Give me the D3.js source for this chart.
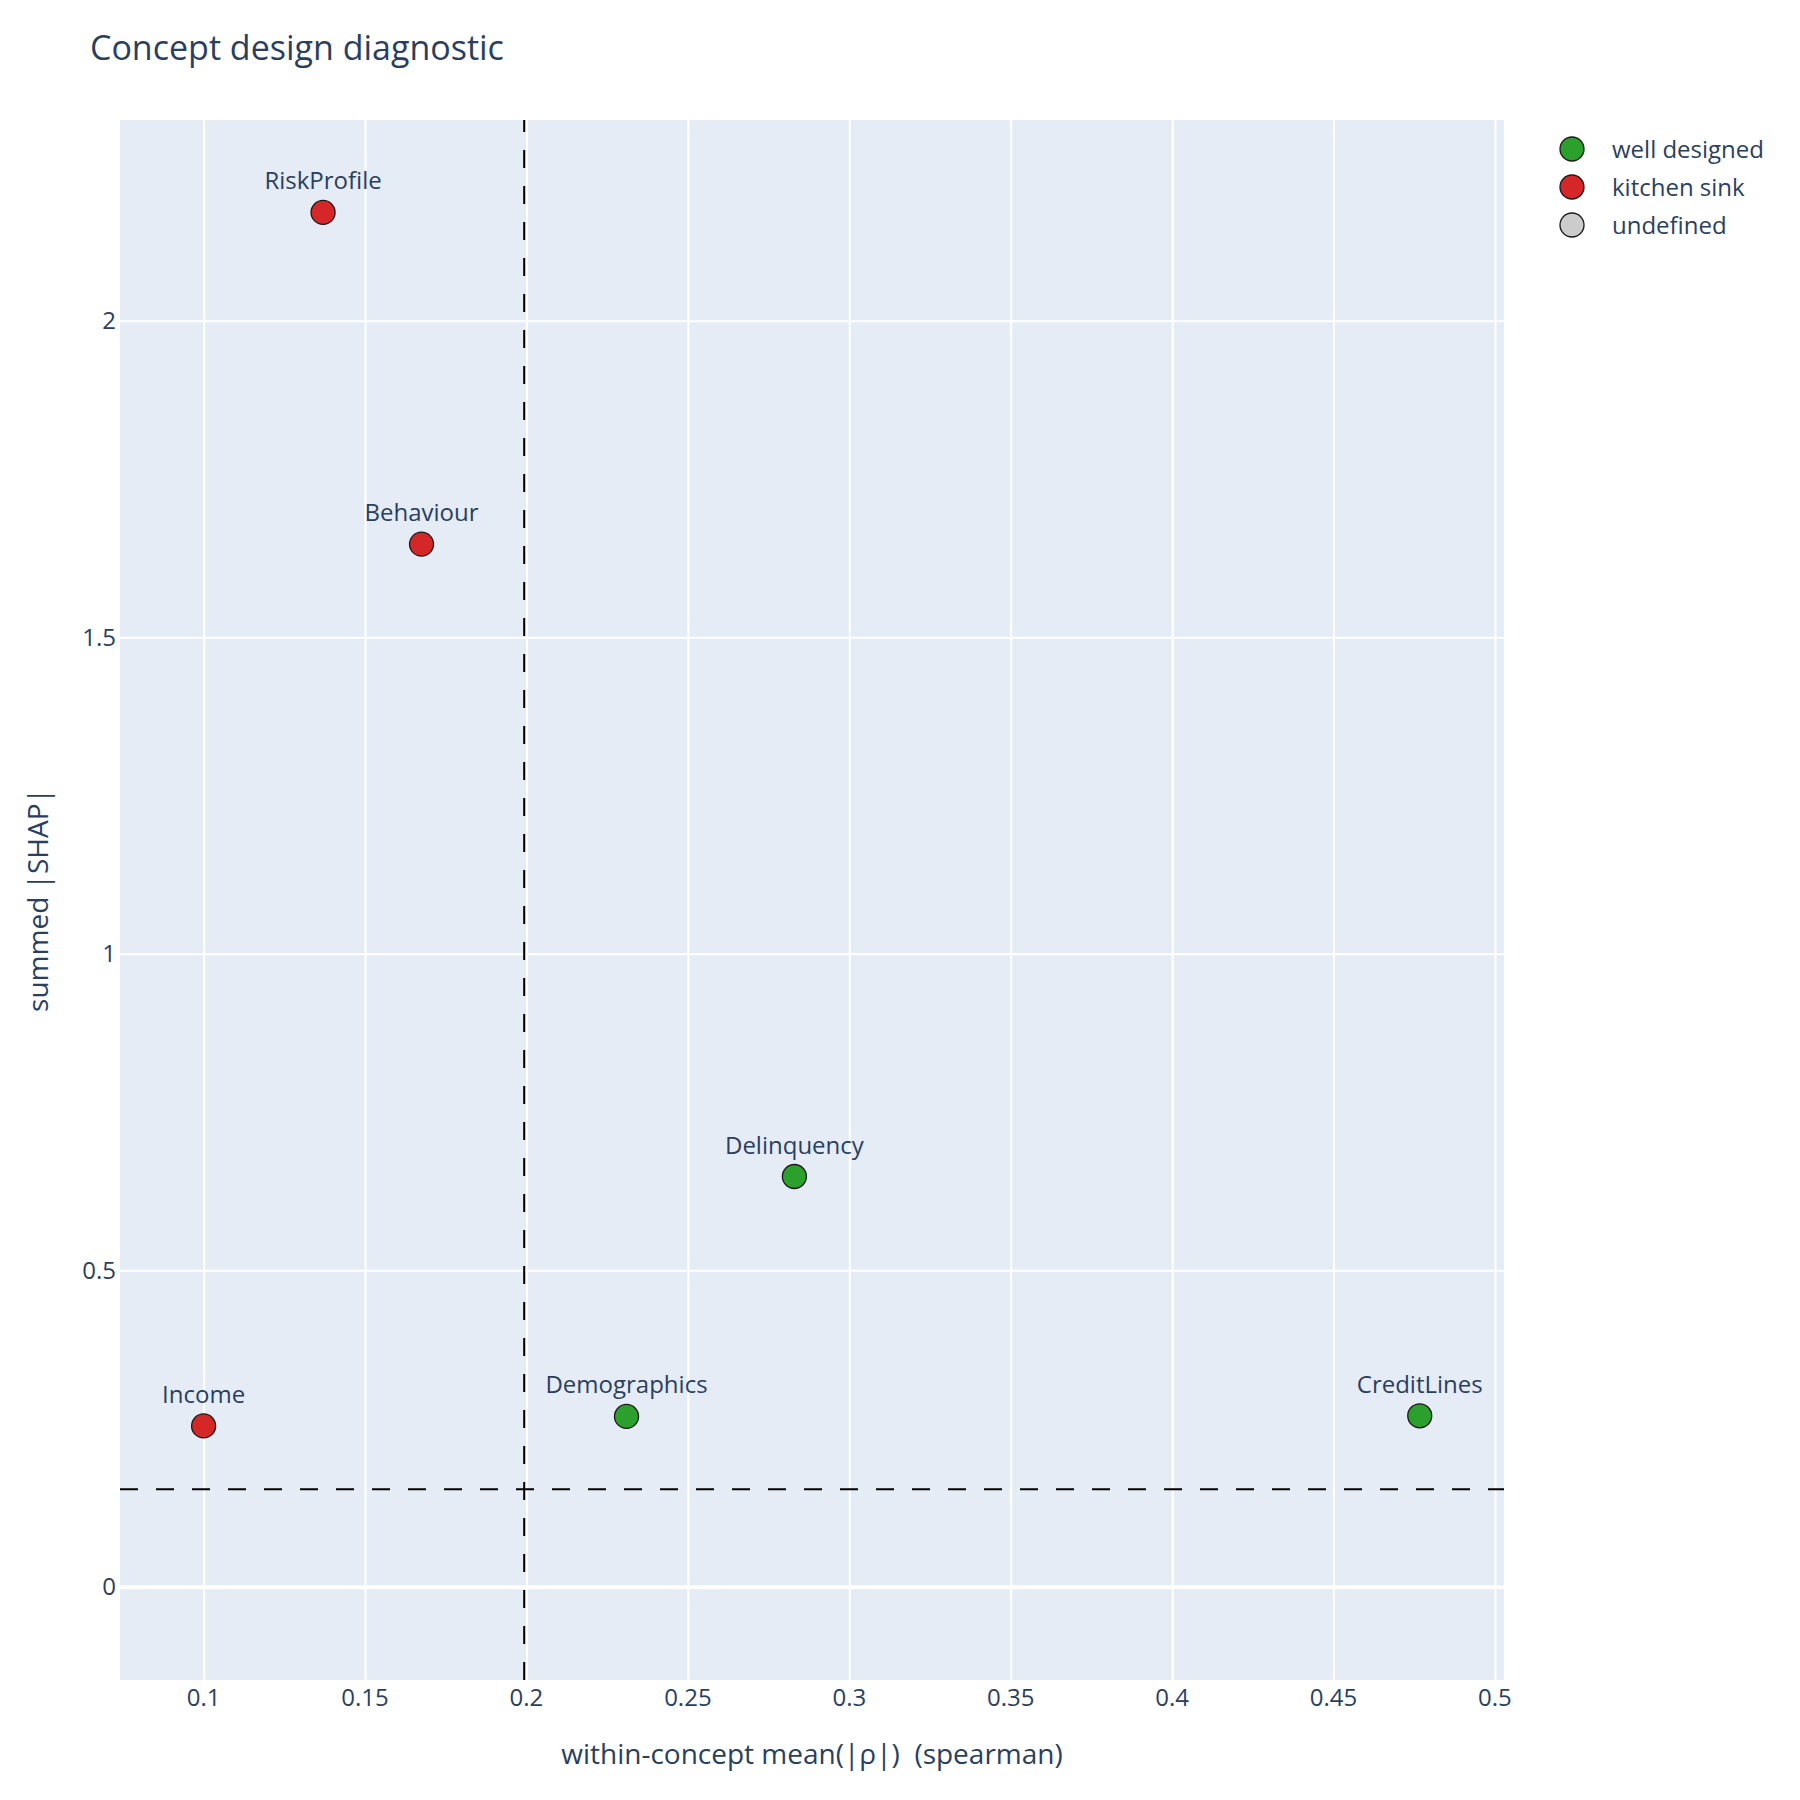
<!DOCTYPE html>
<html>
<head>
<meta charset="utf-8">
<script src="https://cdn.jsdelivr.net/npm/d3@7"></script>
<style>
body{margin:0;background:#fff;}
svg text{font-family:"Open Sans",verdana,arial,sans-serif;fill:#2a3f5f;white-space:pre;}
</style>
</head>
<body>
<div id="chart"></div>
<script>
// values
const concepts = ["RiskProfile", "Behaviour", "Delinquency", "Income", "Demographics", "CreditLines"];
const meanRho = [0.137, 0.1675, 0.283, 0.100, 0.231, 0.4767];
const shapSum = [2.171, 1.647, 0.648, 0.254, 0.269, 0.270];
const design = ["kitchen sink", "kitchen sink", "well designed", "kitchen sink", "well designed", "well designed"];
const legendLabels = ["well designed", "kitchen sink", "undefined"];
const xTicks = [0.1, 0.15, 0.2, 0.25, 0.3, 0.35, 0.4, 0.45, 0.5];
const yTicks = [0, 0.5, 1, 1.5, 2];
const rhoCut = 0.1993;
const shapCut = 0.154;

const colours = {"well designed": "#2ca02c", "kitchen sink": "#d62728", "undefined": "#cccccc"};

const W = 1800, H = 1800;
const m = {l: 120, t: 120, r: 296, b: 120};
const pw = W - m.l - m.r, ph = H - m.t - m.b;

const svg = d3.select("#chart").append("svg")
    .attr("width", W)
    .attr("height", H);

const x = d3.scaleLinear().domain([0.0741, 0.5028]).range([0, pw]);
const y = d3.scaleLinear().domain([-0.1474, 2.317]).range([ph, 0]);

const g = svg.append("g").attr("transform", `translate(${m.l},${m.t})`);

g.append("rect")
    .attr("width", pw)
    .attr("height", ph)
    .attr("fill", "#e5ecf6");

// grid via axes
const xg = g.append("g")
    .call(d3.axisBottom(x).tickValues(xTicks).tickSize(ph).tickFormat(""));
xg.select(".domain").remove();
xg.selectAll("line").attr("stroke", "#fff").attr("stroke-width", 2);

const yg = g.append("g")
    .call(d3.axisLeft(y).tickValues(yTicks).tickSize(-pw).tickFormat(""));
yg.select(".domain").remove();
yg.selectAll("line")
    .attr("stroke", "#fff")
    .attr("stroke-width", d => d === 0 ? 4 : 2);

// tick labels
g.append("g").selectAll("text").data(xTicks).join("text")
    .attr("x", d => x(d))
    .attr("y", ph + 26)
    .attr("text-anchor", "middle")
    .attr("font-size", 24)
    .text(d => d3.format("~g")(d));

g.append("g").selectAll("text").data(yTicks).join("text")
    .attr("x", -4)
    .attr("y", d => y(d) + 8.5)
    .attr("text-anchor", "end")
    .attr("font-size", 24)
    .text(d => d3.format("~g")(d));

// threshold lines (vertical one drawn bottom-up, like the reference)
g.append("line")
    .attr("x1", x(rhoCut)).attr("x2", x(rhoCut))
    .attr("y1", ph).attr("y2", 0)
    .attr("stroke", "#000").attr("stroke-width", 2)
    .attr("stroke-dasharray", "18,18");
g.append("line")
    .attr("x1", 0).attr("x2", pw)
    .attr("y1", y(shapCut)).attr("y2", y(shapCut))
    .attr("stroke", "#000").attr("stroke-width", 2)
    .attr("stroke-dasharray", "18,18");

// points
const pts = concepts.map((c, i) => ({name: c, rx: meanRho[i], sy: shapSum[i], kind: design[i]}));

g.append("g").selectAll("circle").data(pts).join("circle")
    .attr("cx", d => x(d.rx))
    .attr("cy", d => y(d.sy))
    .attr("r", 12)
    .attr("fill", d => colours[d.kind])
    .attr("stroke", "#1a1a1a")
    .attr("stroke-width", 1.3);

g.append("g").selectAll("text").data(pts).join("text")
    .attr("x", d => x(d.rx))
    .attr("y", d => y(d.sy) - 23)
    .attr("text-anchor", "middle")
    .attr("font-size", 24)
    .text(d => d.name);

// titles
svg.append("text")
    .attr("x", 90).attr("y", 60)
    .attr("font-size", 34)
    .text("Concept design diagnostic");

svg.append("text")
    .attr("x", m.l + pw / 2).attr("y", 1764)
    .attr("text-anchor", "middle")
    .attr("font-size", 28)
    .text("within-concept mean(|ρ|)  (spearman)");

svg.append("text")
    .attr("transform", `translate(48,${m.t + ph / 2}) rotate(-90)`)
    .attr("text-anchor", "middle")
    .attr("font-size", 28)
    .text("summed |SHAP|");

// legend
const lg = svg.append("g").attr("transform", "translate(1572,149)");
const items = lg.selectAll("g").data(legendLabels).join("g")
    .attr("transform", (d, i) => `translate(0,${i * 38})`);
items.append("circle")
    .attr("r", 12)
    .attr("fill", d => colours[d])
    .attr("stroke", "#1a1a1a")
    .attr("stroke-width", 1.3);
items.append("text")
    .attr("x", 40)
    .attr("y", 8.5)
    .attr("font-size", 24)
    .text(d => d);
</script>
</body>
</html>
